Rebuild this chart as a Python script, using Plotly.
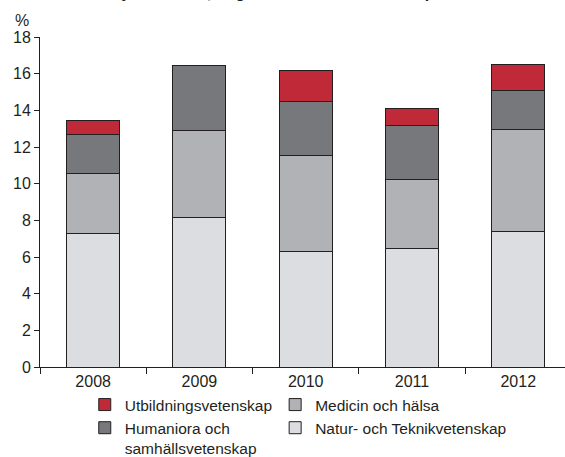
import plotly.graph_objects as go

# Data (percent, stacked per year)
years = ["2008", "2009", "2010", "2011", "2012"]
natur_teknik = [7.3, 8.15, 6.3, 6.45, 7.4]
medicin_halsa = [3.25, 4.75, 5.23, 3.8, 5.55]
humaniora_samh = [2.15, 3.55, 2.95, 2.95, 2.15]
utbildning = [0.75, 0.0, 1.68, 0.9, 1.4]

y_ticks = [0, 2, 4, 6, 8, 10, 12, 14, 16, 18]

# colours
c_red = "#c02a38"
c_dark = "#77787b"
c_mid = "#b1b2b5"
c_light = "#dcdde0"
c_line = "#231f20"

FONT = "Liberation Sans, Arial, sans-serif"

# (name, values, colour, legend column, rank inside column)
series = [
    ("Natur- och Teknikvetenskap", natur_teknik, c_light, "legend2", 2),
    ("Medicin och hälsa", medicin_halsa, c_mid, "legend2", 1),
    ("Humaniora och<br>samhällsvetenskap", humaniora_samh, c_dark, "legend", 2),
    ("Utbildningsvetenskap", utbildning, c_red, "legend", 1),
]

fig = go.Figure()
for name, vals, col, leg, rank in series:
    fig.add_trace(go.Bar(x=years, y=vals, name=name, legend=leg, legendrank=rank,
                         marker=dict(color=col, line=dict(color=c_line, width=1)),
                         width=0.5))

leg_common = dict(orientation="v", xanchor="left", yref="container", y=0.151,
                  yanchor="top", traceorder="normal", itemwidth=30, valign="top",
                  tracegroupgap=0, bgcolor="rgba(0,0,0,0)",
                  font=dict(family=FONT, size=15.5, color="#231f20"))

fig.update_layout(
    barmode="stack",
    width=565, height=457,
    margin=dict(l=40, r=0, t=37, b=90, autoexpand=False),
    paper_bgcolor="white", plot_bgcolor="white",
    font=dict(family=FONT, size=16, color="#231f20"),
    showlegend=True,
    legend=dict(xref="container", x=0.150, **leg_common),
    legend2=dict(xref="container", x=0.487, **leg_common),
)

fig.update_xaxes(type="category", range=[-0.5, 4.44], showline=True, linecolor=c_line,
                 linewidth=1, ticks="outside", ticklen=6, tickcolor=c_line,
                 tickson="boundaries", showgrid=False, zeroline=False,
                 automargin=False, tickfont=dict(size=16))
fig.update_yaxes(range=[0, 18], tickvals=y_ticks, showline=True, linecolor=c_line,
                 linewidth=1, ticks="outside", ticklen=5, tickcolor=c_line,
                 showgrid=False, zeroline=False, automargin=False,
                 tickfont=dict(size=16))

# unit label above the y axis
fig.add_annotation(text="%", xref="paper", yref="paper", x=-0.035, y=1.05,
                   xanchor="center", yanchor="middle", showarrow=False,
                   font=dict(size=16))

# title, mostly cut off by the top edge as in the reference
fig.add_annotation(text="<b>Nya forskare, högskolor och universitet i procent</b>",
                   xref="paper", yref="paper", x=0.49, y=1.136,
                   xanchor="center", yanchor="middle", showarrow=False,
                   font=dict(size=16))

# page has no body margin, so the figure sits at the window's corner
fig.write_html("out.html", config={"displayModeBar": False},
               post_script="document.body.style.margin='0';")
